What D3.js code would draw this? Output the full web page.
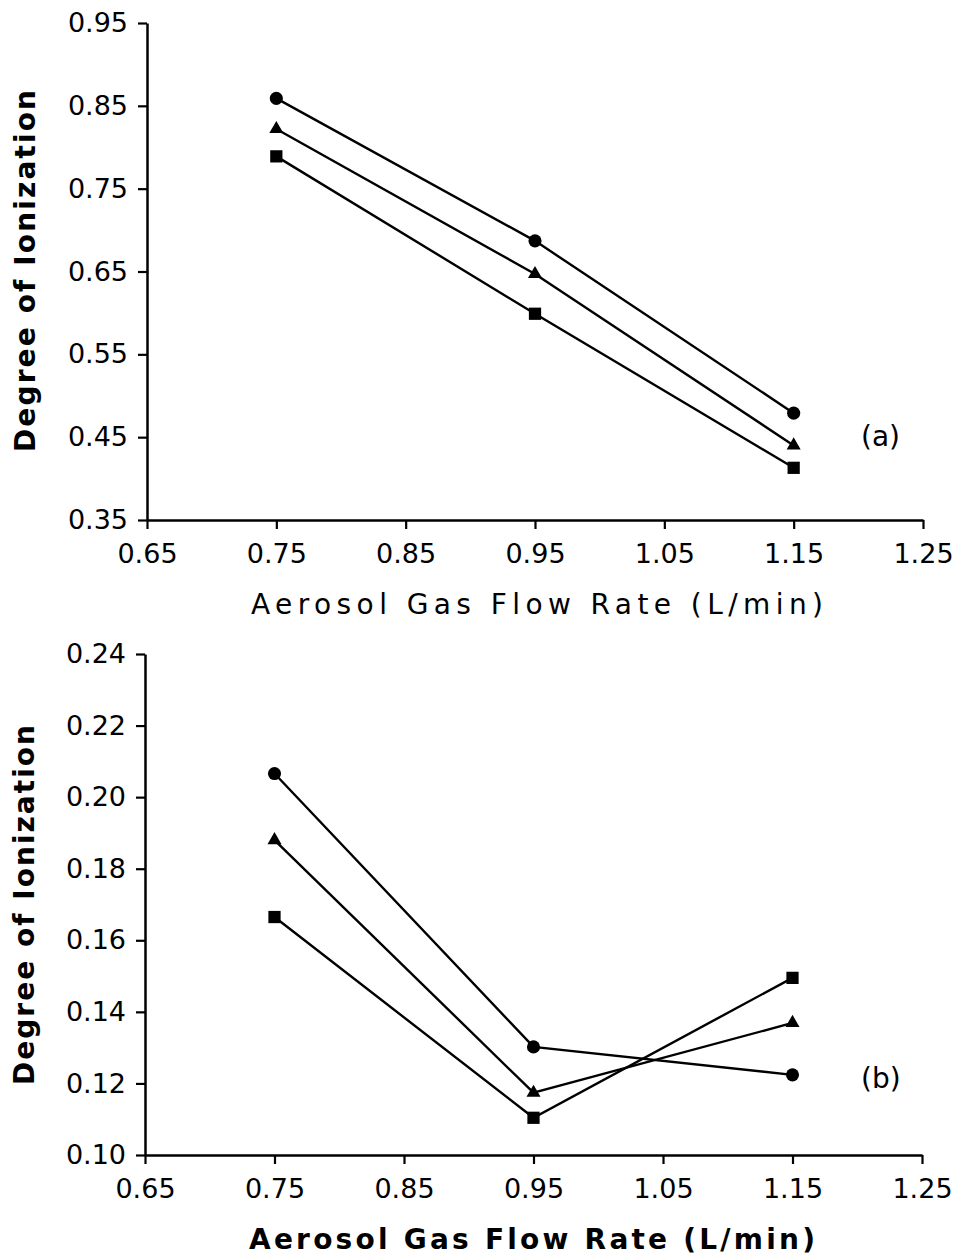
<!DOCTYPE html>
<html>
<head>
<meta charset="utf-8">
<script src="https://cdn.jsdelivr.net/npm/d3@7"></script>
<style>
  html, body { margin: 0; padding: 0; background: #fff; }
  svg { display: block; }
  text { font-family: "DejaVu Sans", sans-serif; fill: #000; }
</style>
</head>
<body>
<svg id="chart" width="965" height="1258"></svg>
<script>
// ---- data ----
const flowRates = [0.75, 0.95, 1.15];
const xTicks = [0.65, 0.75, 0.85, 0.95, 1.05, 1.15, 1.25];

const yTicksA = [0.35, 0.45, 0.55, 0.65, 0.75, 0.85, 0.95];
const aCircle   = [0.859, 0.687, 0.479];
const aTriangle = [0.822, 0.647, 0.440];
const aSquare   = [0.789, 0.599, 0.413];

const yTicksB = [0.10, 0.12, 0.14, 0.16, 0.18, 0.20, 0.22, 0.24];
const bCircle   = [0.2066, 0.1302, 0.1224];
const bTriangle = [0.1880, 0.1174, 0.1369];
const bSquare   = [0.1665, 0.1104, 0.1495];

const xTitle = "Aerosol Gas Flow Rate (L/min)";
const yTitle = "Degree of Ionization";

// ---- drawing ----
const svg = d3.select("#chart");
svg.append("rect").attr("width", 965).attr("height", 1258).attr("fill", "#fff");

function panel(cfg) {
  const x = d3.scaleLinear().domain([0.65, 1.25]).range(cfg.xRange);
  const y = d3.scaleLinear().domain(cfg.yDomain).range(cfg.yRange);
  const g = svg.append("g");

  const xAxis = g.append("g")
    .attr("transform", `translate(0,${cfg.yRange[0]})`)
    .call(d3.axisBottom(x).tickValues(xTicks).tickFormat(d3.format(".2f"))
      .tickSize(9).tickSizeOuter(0).tickPadding(15));
  const yAxis = g.append("g")
    .attr("transform", `translate(${cfg.xRange[0]},0)`)
    .call(d3.axisLeft(y).tickValues(cfg.yTicks).tickFormat(d3.format(".2f"))
      .tickSize(9).tickSizeOuter(0).tickPadding(10));

  [xAxis, yAxis].forEach(a => {
    a.select(".domain").attr("stroke", "#000").attr("stroke-width", 2.5);
    a.selectAll(".tick line").attr("stroke", "#000").attr("stroke-width", 2.2);
    a.selectAll(".tick text").attr("font-size", 27)
      .attr("font-family", "DejaVu Sans, sans-serif").attr("fill", "#000");
  });

  const line = d3.line().x((d, i) => x(flowRates[i])).y(d => y(d));
  const series = [
    { vals: cfg.circle, sym: d3.symbolCircle, size: 135 },
    { vals: cfg.triangle, sym: d3.symbolTriangle, size: 85 },
    { vals: cfg.square, sym: d3.symbolSquare, size: 150 }
  ];
  series.forEach(s => {
    g.append("path").datum(s.vals).attr("d", line)
      .attr("fill", "none").attr("stroke", "#000").attr("stroke-width", 2.4);
    g.selectAll(null).data(s.vals).enter().append("path")
      .attr("d", d3.symbol().type(s.sym).size(s.size))
      .attr("transform", (d, i) => `translate(${x(flowRates[i])},${y(d)})`)
      .attr("fill", "#000");
  });

  // x title
  g.append("text")
    .attr("x", cfg.xTitle[0]).attr("y", cfg.xTitle[2])
    .attr("textLength", cfg.xTitle[1] - cfg.xTitle[0]).attr("lengthAdjust", "spacing")
    .attr("font-size", 28).attr("font-weight", cfg.xBold ? "bold" : "normal")
    .text(xTitle);
  // y title
  g.append("text")
    .attr("transform", `translate(${cfg.yTitle[2]},${cfg.yTitle[0]}) rotate(-90)`)
    .attr("textLength", cfg.yTitle[0] - cfg.yTitle[1]).attr("lengthAdjust", "spacing")
    .attr("font-size", 28).attr("font-weight", "bold")
    .text(yTitle);
  // panel label
  g.append("text").attr("x", cfg.label[0]).attr("y", cfg.label[1])
    .attr("font-size", 28).text(cfg.label[2]);
}

panel({
  xRange: [147, 923], yDomain: [0.35, 0.95], yRange: [520, 23], yTicks: yTicksA,
  circle: aCircle, triangle: aTriangle, square: aSquare,
  xTitle: [251, 823, 614], xBold: false, yTitle: [452, 90, 35],
  label: [861, 446, "(a)"]
});
panel({
  xRange: [145, 922], yDomain: [0.10, 0.24], yRange: [1155, 654], yTicks: yTicksB,
  circle: bCircle, triangle: bTriangle, square: bSquare,
  xTitle: [249, 815, 1249], xBold: true, yTitle: [1085, 725, 34],
  label: [861, 1088, "(b)"]
});
</script>
</body>
</html>
